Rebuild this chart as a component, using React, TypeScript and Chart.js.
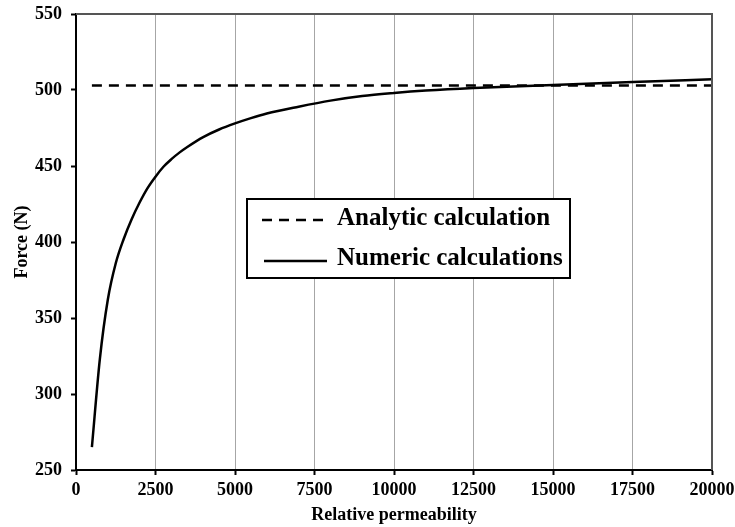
import React, { useEffect, useRef } from "react";
import { Chart, registerables } from "chart.js";

Chart.register(...registerables);

const analyticX = [500, 20000];
const analyticY = [503, 503];

const numericX = [500, 750, 1000, 1250, 1500, 1750, 2000, 2250, 2500, 2750, 3000, 3250, 3500, 4000, 4500, 5000, 5500, 6000, 7000, 8000, 9000, 10000, 11000, 12500, 15000, 17500, 20000];
const numericY = [265, 323, 362, 386, 402, 415, 426, 435.5, 443, 449.5, 454.5, 458.8, 462.5, 469, 474, 478, 481.5, 484.5, 489, 493, 496, 498, 499.6, 501.3, 503.3, 505.3, 507];

const seriesLabels = ["Analytic calculation", "Numeric calculations"];
const xTitle = "Relative permeability";
const yTitle = "Force (N)";

const FONT = '"Liberation Serif", "Times New Roman", serif';

const frameAndLegend = {
  id: "frameAndLegend",
  afterDraw(chart: any) {
    const { ctx, chartArea } = chart;
    ctx.save();
    ctx.strokeStyle = "#555";
    ctx.lineWidth = 2;
    ctx.beginPath();
    ctx.moveTo(chartArea.left, chartArea.top);
    ctx.lineTo(chartArea.right, chartArea.top);
    ctx.lineTo(chartArea.right, chartArea.bottom);
    ctx.stroke();

    const bx = 247, by = 199, bw = 323, bh = 79;
    ctx.fillStyle = "#fff";
    ctx.fillRect(bx, by, bw, bh);
    ctx.strokeStyle = "#000";
    ctx.lineWidth = 2;
    ctx.strokeRect(bx, by, bw, bh);

    const rows = [
      { y: 220, ds: chart.data.datasets[0], x0: 262, x1: 324 },
      { y: 261, ds: chart.data.datasets[1], x0: 264, x1: 327 },
    ];
    ctx.font = `bold 25px ${FONT}`;
    ctx.textBaseline = "middle";
    ctx.textAlign = "left";
    rows.forEach((r, i) => {
      ctx.beginPath();
      ctx.setLineDash(r.ds.borderDash || []);
      ctx.lineWidth = 2.5;
      ctx.strokeStyle = "#000";
      ctx.moveTo(r.x0, r.y);
      ctx.lineTo(r.x1, r.y);
      ctx.stroke();
      ctx.setLineDash([]);
      ctx.fillStyle = "#000";
      ctx.fillText(r.ds.label, 337, i === 0 ? r.y - 1 : r.y - 2);
    });
    ctx.restore();
  },
};

export default function App() {
  const ref = useRef<HTMLCanvasElement | null>(null);
  useEffect(() => {
    if (!ref.current) return;
    const chart = new Chart(ref.current, {
      type: "line",
      data: {
        datasets: [
          {
            label: seriesLabels[0],
            data: analyticX.map((x, i) => ({ x, y: analyticY[i] })),
            borderColor: "#000",
            borderWidth: 2.5,
            borderDash: [10, 7],
            pointRadius: 0,
            fill: false,
          },
          {
            label: seriesLabels[1],
            data: numericX.map((x, i) => ({ x, y: numericY[i] })),
            borderColor: "#000",
            borderWidth: 2.5,
            pointRadius: 0,
            cubicInterpolationMode: "monotone",
            fill: false,
          },
        ],
      },
      options: {
        animation: false,
        responsive: true,
        maintainAspectRatio: false,
        layout: { padding: { top: 14, right: 23, left: 0, bottom: 0 } },
        plugins: {
          legend: { display: false },
          tooltip: { enabled: false },
        },
        scales: {
          x: {
            type: "linear",
            min: 0,
            max: 20000,
            ticks: {
              stepSize: 2500,
              padding: 5,
              color: "#000",
              font: { family: FONT, size: 18, weight: "bold" },
              maxRotation: 0,
              callback: (v: any) => String(v),
            },
            grid: {
              color: "#a6a6a6",
              lineWidth: 1,
              tickColor: "#000",
              tickLength: 5,
              tickWidth: 2,
            },
            border: { color: "#000", width: 2 },
            title: {
              display: true,
              text: xTitle,
              color: "#000",
              font: { family: FONT, size: 18, weight: "bold" },
              padding: { top: 0, bottom: 1 },
            },
            afterFit: (s: any) => {
              s.height = 57;
              s.paddingLeft = 0;
              s.paddingRight = 0;
            },
          },
          y: {
            type: "linear",
            min: 250,
            max: 550,
            ticks: {
              stepSize: 50,
              padding: 9,
              color: "#000",
              font: { family: FONT, size: 18, weight: "bold" },
            },
            grid: {
              color: "rgba(0,0,0,0)",
              tickColor: "#000",
              tickLength: 5,
              tickWidth: 2,
            },
            border: { color: "#000", width: 2 },
            title: {
              display: true,
              text: yTitle,
              color: "#000",
              font: { family: FONT, size: 18, weight: "bold" },
              padding: { top: 12, bottom: 0 },
            },
            afterFit: (s: any) => {
              s.width = 76;
              s.paddingTop = 0;
              s.paddingBottom = 0;
            },
          },
        },
      },
      plugins: [frameAndLegend],
    } as any);
    return () => chart.destroy();
  }, []);
  return (
    <div style={{ position: "fixed", left: 0, top: 0, width: 735, height: 527, background: "#fff" }}>
      <canvas ref={ref} />
    </div>
  );
}
